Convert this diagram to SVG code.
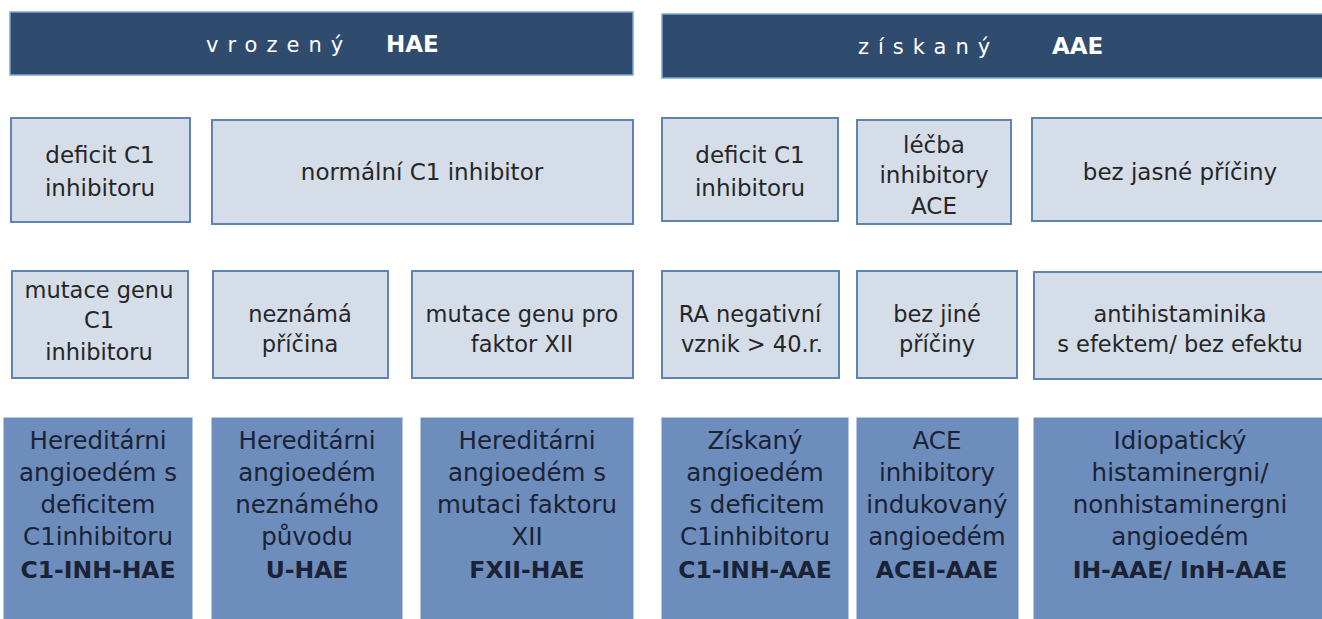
<svg xmlns="http://www.w3.org/2000/svg" width="1322" height="619" viewBox="0 0 1322 619">
<style>
.hdr{fill:#2f4b6e;stroke:#7ea7d4;stroke-width:1.5}
.lt{fill:#d5dde9;stroke:#5f84b2;stroke-width:2}
.dk{fill:#6d8dbd;stroke:#6d8dbd;stroke-width:1}
text{font-family:"DejaVu Sans","Liberation Sans",sans-serif;text-anchor:middle}
.ht{fill:#ffffff;font-size:21px}
.hs{letter-spacing:9px;text-anchor:start}
.hb{font-weight:bold;text-anchor:start;font-size:23px}
.t2{fill:#262626;font-size:23px}
.t3{fill:#262626;font-size:22.5px}
.t4{fill:#1b2233;font-size:24.5px}
.b{font-weight:bold;font-size:23.5px}
</style>
<rect width="1322" height="619" fill="#ffffff"/>
<g id="hdr-hae"><rect class="hdr" x="10" y="12" width="623" height="63"/>
<text class="ht hs" x="206" y="52">vrozený</text><text class="ht hb" x="386" y="52">HAE</text></g>
<g id="hdr-aae"><rect class="hdr" x="662" y="14" width="672" height="64"/>
<text class="ht hs" x="858" y="54">získaný</text><text class="ht hb" x="1052" y="54">AAE</text></g>

<g id="r2a"><rect class="lt" x="11" y="118" width="179" height="104"/><text class="t2" x="100"><tspan x="100" y="163">deficit C1</tspan><tspan x="100" y="196">inhibitoru</tspan></text></g>
<g id="r2b"><rect class="lt" x="212" y="120" width="421" height="104"/><text class="t2" x="422" y="180">normální C1 inhibitor</text></g>
<g id="r2c"><rect class="lt" x="662" y="118" width="176" height="103"/><text class="t2" x="750"><tspan x="750" y="163">deficit C1</tspan><tspan x="750" y="196">inhibitoru</tspan></text></g>
<g id="r2d"><rect class="lt" x="857" y="120" width="154" height="104"/><text class="t2" x="934"><tspan x="934" y="153">léčba</tspan><tspan x="934" y="183">inhibitory</tspan><tspan x="934" y="214">ACE</tspan></text></g>
<g id="r2e"><rect class="lt" x="1032" y="118" width="300" height="103"/><text class="t2" x="1180" y="180">bez jasné příčiny</text></g>

<g id="r3a"><rect class="lt" x="12" y="271" width="176" height="107"/><text class="t3"><tspan x="99" y="298">mutace genu</tspan><tspan x="99" y="328">C1</tspan><tspan x="99" y="360">inhibitoru</tspan></text></g>
<g id="r3b"><rect class="lt" x="213" y="271" width="175" height="107"/><text class="t3"><tspan x="300" y="322">neznámá</tspan><tspan x="300" y="352">příčina</tspan></text></g>
<g id="r3c"><rect class="lt" x="412" y="271" width="221" height="107"/><text class="t3"><tspan x="522" y="322">mutace genu pro</tspan><tspan x="522" y="352">faktor XII</tspan></text></g>
<g id="r3d"><rect class="lt" x="662" y="271" width="177" height="107"/><text class="t3"><tspan x="750" y="322">RA negativní</tspan><tspan x="752" y="352">vznik &gt; 40.r.</tspan></text></g>
<g id="r3e"><rect class="lt" x="857" y="271" width="160" height="107"/><text class="t3"><tspan x="937" y="322">bez jiné</tspan><tspan x="937" y="352">příčiny</tspan></text></g>
<g id="r3f"><rect class="lt" x="1034" y="272" width="300" height="107"/><text class="t3"><tspan x="1180" y="322">antihistaminika</tspan><tspan x="1180" y="352">s efektem/ bez efektu</tspan></text></g>

<g id="r4a"><rect class="dk" x="4" y="418" width="188" height="210"/><text class="t4"><tspan x="98" y="449">Hereditárni</tspan><tspan x="98" y="481">angioedém s</tspan><tspan x="98" y="513">deficitem</tspan><tspan x="98" y="545">C1inhibitoru</tspan><tspan class="b" x="98" y="578">C1-INH-HAE</tspan></text></g>
<g id="r4b"><rect class="dk" x="212" y="418" width="190" height="210"/><text class="t4"><tspan x="307" y="449">Hereditárni</tspan><tspan x="307" y="481">angioedém</tspan><tspan x="307" y="513">neznámého</tspan><tspan x="307" y="545">původu</tspan><tspan class="b" x="307" y="578">U-HAE</tspan></text></g>
<g id="r4c"><rect class="dk" x="421" y="418" width="212" height="210"/><text class="t4"><tspan x="527" y="449">Hereditárni</tspan><tspan x="527" y="481">angioedém s</tspan><tspan x="527" y="513">mutaci faktoru</tspan><tspan x="527" y="545">XII</tspan><tspan class="b" x="527" y="578">FXII-HAE</tspan></text></g>
<g id="r4d"><rect class="dk" x="662" y="418" width="186" height="210"/><text class="t4"><tspan x="755" y="449">Získaný</tspan><tspan x="755" y="481">angioedém</tspan><tspan x="757" y="513">s deficitem</tspan><tspan x="755" y="545">C1inhibitoru</tspan><tspan class="b" x="755" y="578">C1-INH-AAE</tspan></text></g>
<g id="r4e"><rect class="dk" x="857" y="418" width="161" height="210"/><text class="t4"><tspan x="937" y="449">ACE</tspan><tspan x="937" y="481">inhibitory</tspan><tspan x="937" y="513">indukovaný</tspan><tspan x="937" y="545">angioedém</tspan><tspan class="b" x="937" y="578">ACEI-AAE</tspan></text></g>
<g id="r4f"><rect class="dk" x="1034" y="418" width="300" height="210"/><text class="t4"><tspan x="1180" y="449">Idiopatický</tspan><tspan x="1180" y="481">histaminergni/</tspan><tspan x="1180" y="513">nonhistaminergni</tspan><tspan x="1180" y="545">angioedém</tspan><tspan class="b" x="1180" y="578">IH-AAE/ InH-AAE</tspan></text></g>
<g id="connectors"/>
</svg>
